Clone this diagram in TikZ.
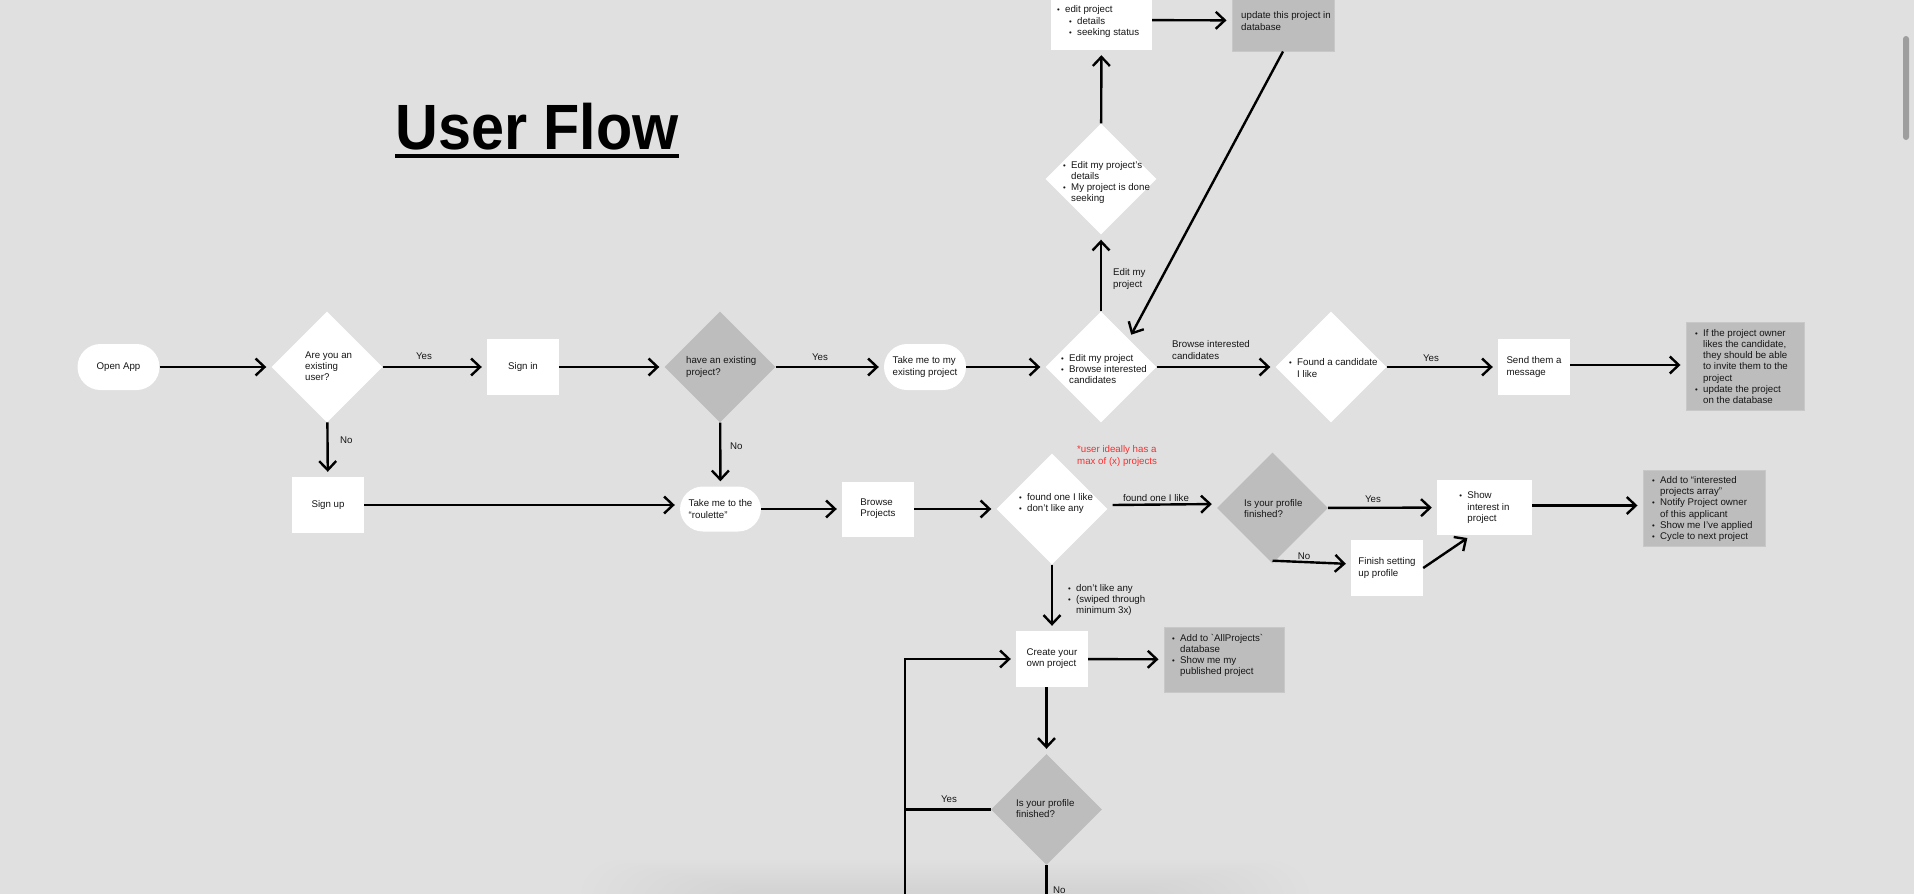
\documentclass[tikz,border=0pt]{standalone}
\usepackage{fontspec}
\usepackage{graphicx}
\newfontfamily\uif{Liberation Sans}
\usetikzlibrary{shapes.geometric, arrows.meta, calc}

\definecolor{bg}{HTML}{E0E0E0}
\definecolor{gfill}{HTML}{BDBDBD}
\definecolor{gline}{HTML}{C8C8C8}
\definecolor{ink}{HTML}{161616}
\definecolor{notered}{HTML}{FF2B2B}
\definecolor{scrollgray}{HTML}{9E9E9E}

% bullet with fixed width, and the matching hanging indent
\newcommand{\bl}{\makebox[8pt][l]{\scalebox{0.8}{\textbullet}}}
\newcommand{\hang}{\hspace*{8pt}}

\begin{document}
\begin{tikzpicture}[x=1pt, y=-1pt,
  every node/.style={font=\uif\fontsize{9.7}{11.2}\selectfont, text=ink},
  txt/.style={inner sep=0pt, align=left},
  wbox/.style={rectangle, fill=white, minimum width=72pt, minimum height=56pt, inner sep=2pt, align=left},
  stad/.style={rectangle, fill=white, rounded corners=23pt, minimum width=82pt, minimum height=46pt, inner sep=2pt, align=left},
  wdia/.style={diamond, fill=white, minimum width=111pt, minimum height=111pt, inner sep=0pt},
  gdia/.style={wdia, fill=gfill},
  gbox/.style={rectangle, fill=gfill, draw=gline, line width=1pt, inner sep=0pt},
  arr/.style={line width=2.4pt, draw=black, -{Straight Barb[length=9pt,width=17pt]}, shorten >=5pt},
  ln/.style={line width=2.4pt, draw=black},
]
\useasboundingbox (0,0) rectangle (1914,894);
\clip (0,0) rectangle (1914,894);
\fill[bg] (0,0) rectangle (1914,894);

% faint soft shadow along the bottom edge
\foreach \i in {0,...,11}
  \fill[black, opacity=0.005, rounded corners=40pt] (580+\i*12, 860+\i*2.5) rectangle (1310-\i*12, 950);

% scroll bar
\fill[scrollgray, rounded corners=3pt] (1903,36) rectangle (1909,140);

% title
\node[inner sep=0pt, anchor=base west, text=black,
      font=\uif\bfseries\fontsize{64}{70}\selectfont] (title) at (395,149) {\scalebox{0.927}[1]{User Flow}};
\draw[line width=3.5pt] ([yshift=-7pt]title.base west) -- ([yshift=-7pt]title.base east);

% ---- main row ----
\node[stad, align=center] (open) at (118.5,367) {Open App};
\node[wdia] (d1) at (327,367) {};
\node[txt, anchor=west] (d1t) at (305,366) {Are you an\\existing\\user?};
\node[wbox] (signin) at (523,367) {Sign in};
\node[gdia] (d2) at (720,367) {};
\node[txt, anchor=west] (d2t) at (686,367) {have an existing\\project?};
\node[stad] (exist) at (925,367) {Take me to my\\existing project};
\node[wdia] (d3) at (1101,367) {};
\node[txt, anchor=west] (d3t) at (1061,369) {\bl Edit my project\\\bl Browse interested\\\hang candidates};
\node[wdia] (d4) at (1331,367) {};
\node[txt, anchor=west] (d4t) at (1289,368) {\bl Found a candidate\\\hang I like};
\node[wbox] (send) at (1534,367) {Send them a\\message};
\node[gbox, minimum width=118pt, minimum height=88pt] (g1) at (1745,366) {};
\node[txt, anchor=west] (g1t) at (1695,366.5) {\bl If the project owner\\\hang likes the candidate,\\\hang they should be able\\\hang to invite them to the\\\hang project\\\bl update the project\\\hang on the database};

% ---- edit branch ----
\node[wdia] (d5) at (1101,179) {};
\node[txt, anchor=west] (d5t) at (1063,182.5) {\bl Edit my project’s\\\hang details\\\bl My project is done\\\hang seeking};
\node[rectangle, fill=white, minimum width=101pt, minimum height=60pt, inner sep=0pt] (edit) at (1101.5,20) {};
\node[txt, anchor=west] (editt) at (1057,21.5) {\bl edit project\\\hspace*{12pt}\bl details\\\hspace*{12pt}\bl seeking status};
\node[gbox, minimum width=102pt, minimum height=61pt] (dbup) at (1283,20.5) {};
\node[txt, anchor=west] (dbupt) at (1241,21) {update this project in\\database};

% ---- second row ----
\node[wbox] (signup) at (328,505) {Sign up};
\node[stad, minimum width=81pt, minimum height=45pt] (roul) at (720.5,509) {Take me to the\\“roulette”};
\node[wbox, minimum height=55pt] (browse) at (878,509) {Browse\\Projects};
\node[wdia] (d6) at (1052,509) {};
\node[txt, anchor=west] (d6t) at (1019,503.5) {\bl found one I like\\\bl don’t like any};
\node[txt, anchor=west, text=notered] (note) at (1077,456) {*user ideally has a\\max of (x) projects};
\node[gdia] (d7) at (1272.5,508) {};
\node[txt, anchor=west] (d7t) at (1244,508.5) {Is your profile\\finished?};
\node[wbox, minimum width=95pt, minimum height=55pt] (show) at (1484.5,507.5) {\bl Show\\\hang interest in\\\hang project};
\node[wbox] (fin) at (1387,568) {Finish setting\\up profile};
\node[gbox, minimum width=122pt, minimum height=76pt] (g2) at (1704,508) {};
\node[txt, anchor=west] (g2t) at (1652,509) {\bl Add to “interested\\\hang projects array”\\\bl Notify Project owner\\\hang of this applicant\\\bl Show me I’ve applied\\\bl Cycle to next project};

% ---- create branch ----
\node[wbox] (create) at (1052,659) {Create your\\own project};
\node[gbox, minimum width=120pt, minimum height=65pt] (g3) at (1224,659.5) {};
\node[txt, anchor=west] (g3t) at (1172,655.5) {\bl Add to `AllProjects`\\\hang database\\\bl Show me my\\\hang published project};
\node[gdia] (d8) at (1046.5,809.5) {};
\node[txt, anchor=west] (d8t) at (1016,808.5) {Is your profile\\finished?};
\coordinate (lpb) at (905,900);
\coordinate (lpj) at (905,809.5);

% ---- connectors ----
\draw[arr] (open) -- (d1);
\draw[arr] (d1) -- (signin);
\draw[arr] (signin) -- (d2);
\draw[arr] (d2) -- (exist);
\draw[arr] (exist) -- (d3);
\draw[arr] (d3) -- (d4);
\draw[arr] (d4) -- (send);
\draw[arr] ([yshift=2pt]send.east) -- ([yshift=2pt]send.east -| g1.west);

\draw[arr] (d3) -- (d5);
\draw[arr] (d5) -- (edit);
\draw[arr] (edit) -- (dbup);
\draw[arr] (dbup.south) -- (d3.north east);

\draw[arr] (d1) -- (signup);
\draw[arr] (d2) -- (roul);
\draw[arr] (signup.east) -- (signup.east -| roul.west);
\draw[arr] (roul) -- (browse);
\draw[arr] (browse) -- (d6);
\draw[arr] ([shift={(5pt,4pt)}]d6.east) -- ([yshift=4pt]d7.west);
\draw[arr] (d7) -- (show);
\draw[arr] ([yshift=3pt]d7.south) -- ([yshift=4pt]fin.west);
\draw[arr] (fin.east) -- ([xshift=-13pt]show.south);
\draw[arr] ([yshift=2pt]show.east) -- ([yshift=2pt]show.east -| g2.west);

\draw[arr] (d6) -- (create);
\draw[arr] (create) -- (g3);
\draw[arr] (create.south -| d8.north) -- (d8.north);
\draw[ln] (d8.west) -- (lpj);
\draw[arr] (lpb) |- (create.west);
\draw[ln] (d8.south) -- (d8.south |- lpb);

% ---- connector labels ----
\node (l1) at (424,356) {Yes};
\node[txt, anchor=west] (l2) at (340,440) {No};
\node (l3) at (820,357) {Yes};
\node[txt, anchor=west] (l4) at (730,446) {No};
\node[txt, anchor=west] (l5) at (1172,350) {Browse interested\\candidates};
\node (l6) at (1431,358) {Yes};
\node[txt, anchor=west] (l7) at (1113,279) {Edit my\\project};
\node (l8) at (1156,498) {found one I like};
\node (l9) at (1373,499) {Yes};
\node (l10) at (1304,556) {No};
\node[txt, anchor=west] (l11) at (1068,600) {\bl don’t like any\\\bl (swiped through\\\hang minimum 3x)};
\node (l12) at (949,799) {Yes};
\node[txt, anchor=west] (l13) at (1053,890) {No};
\end{tikzpicture}
\end{document}
